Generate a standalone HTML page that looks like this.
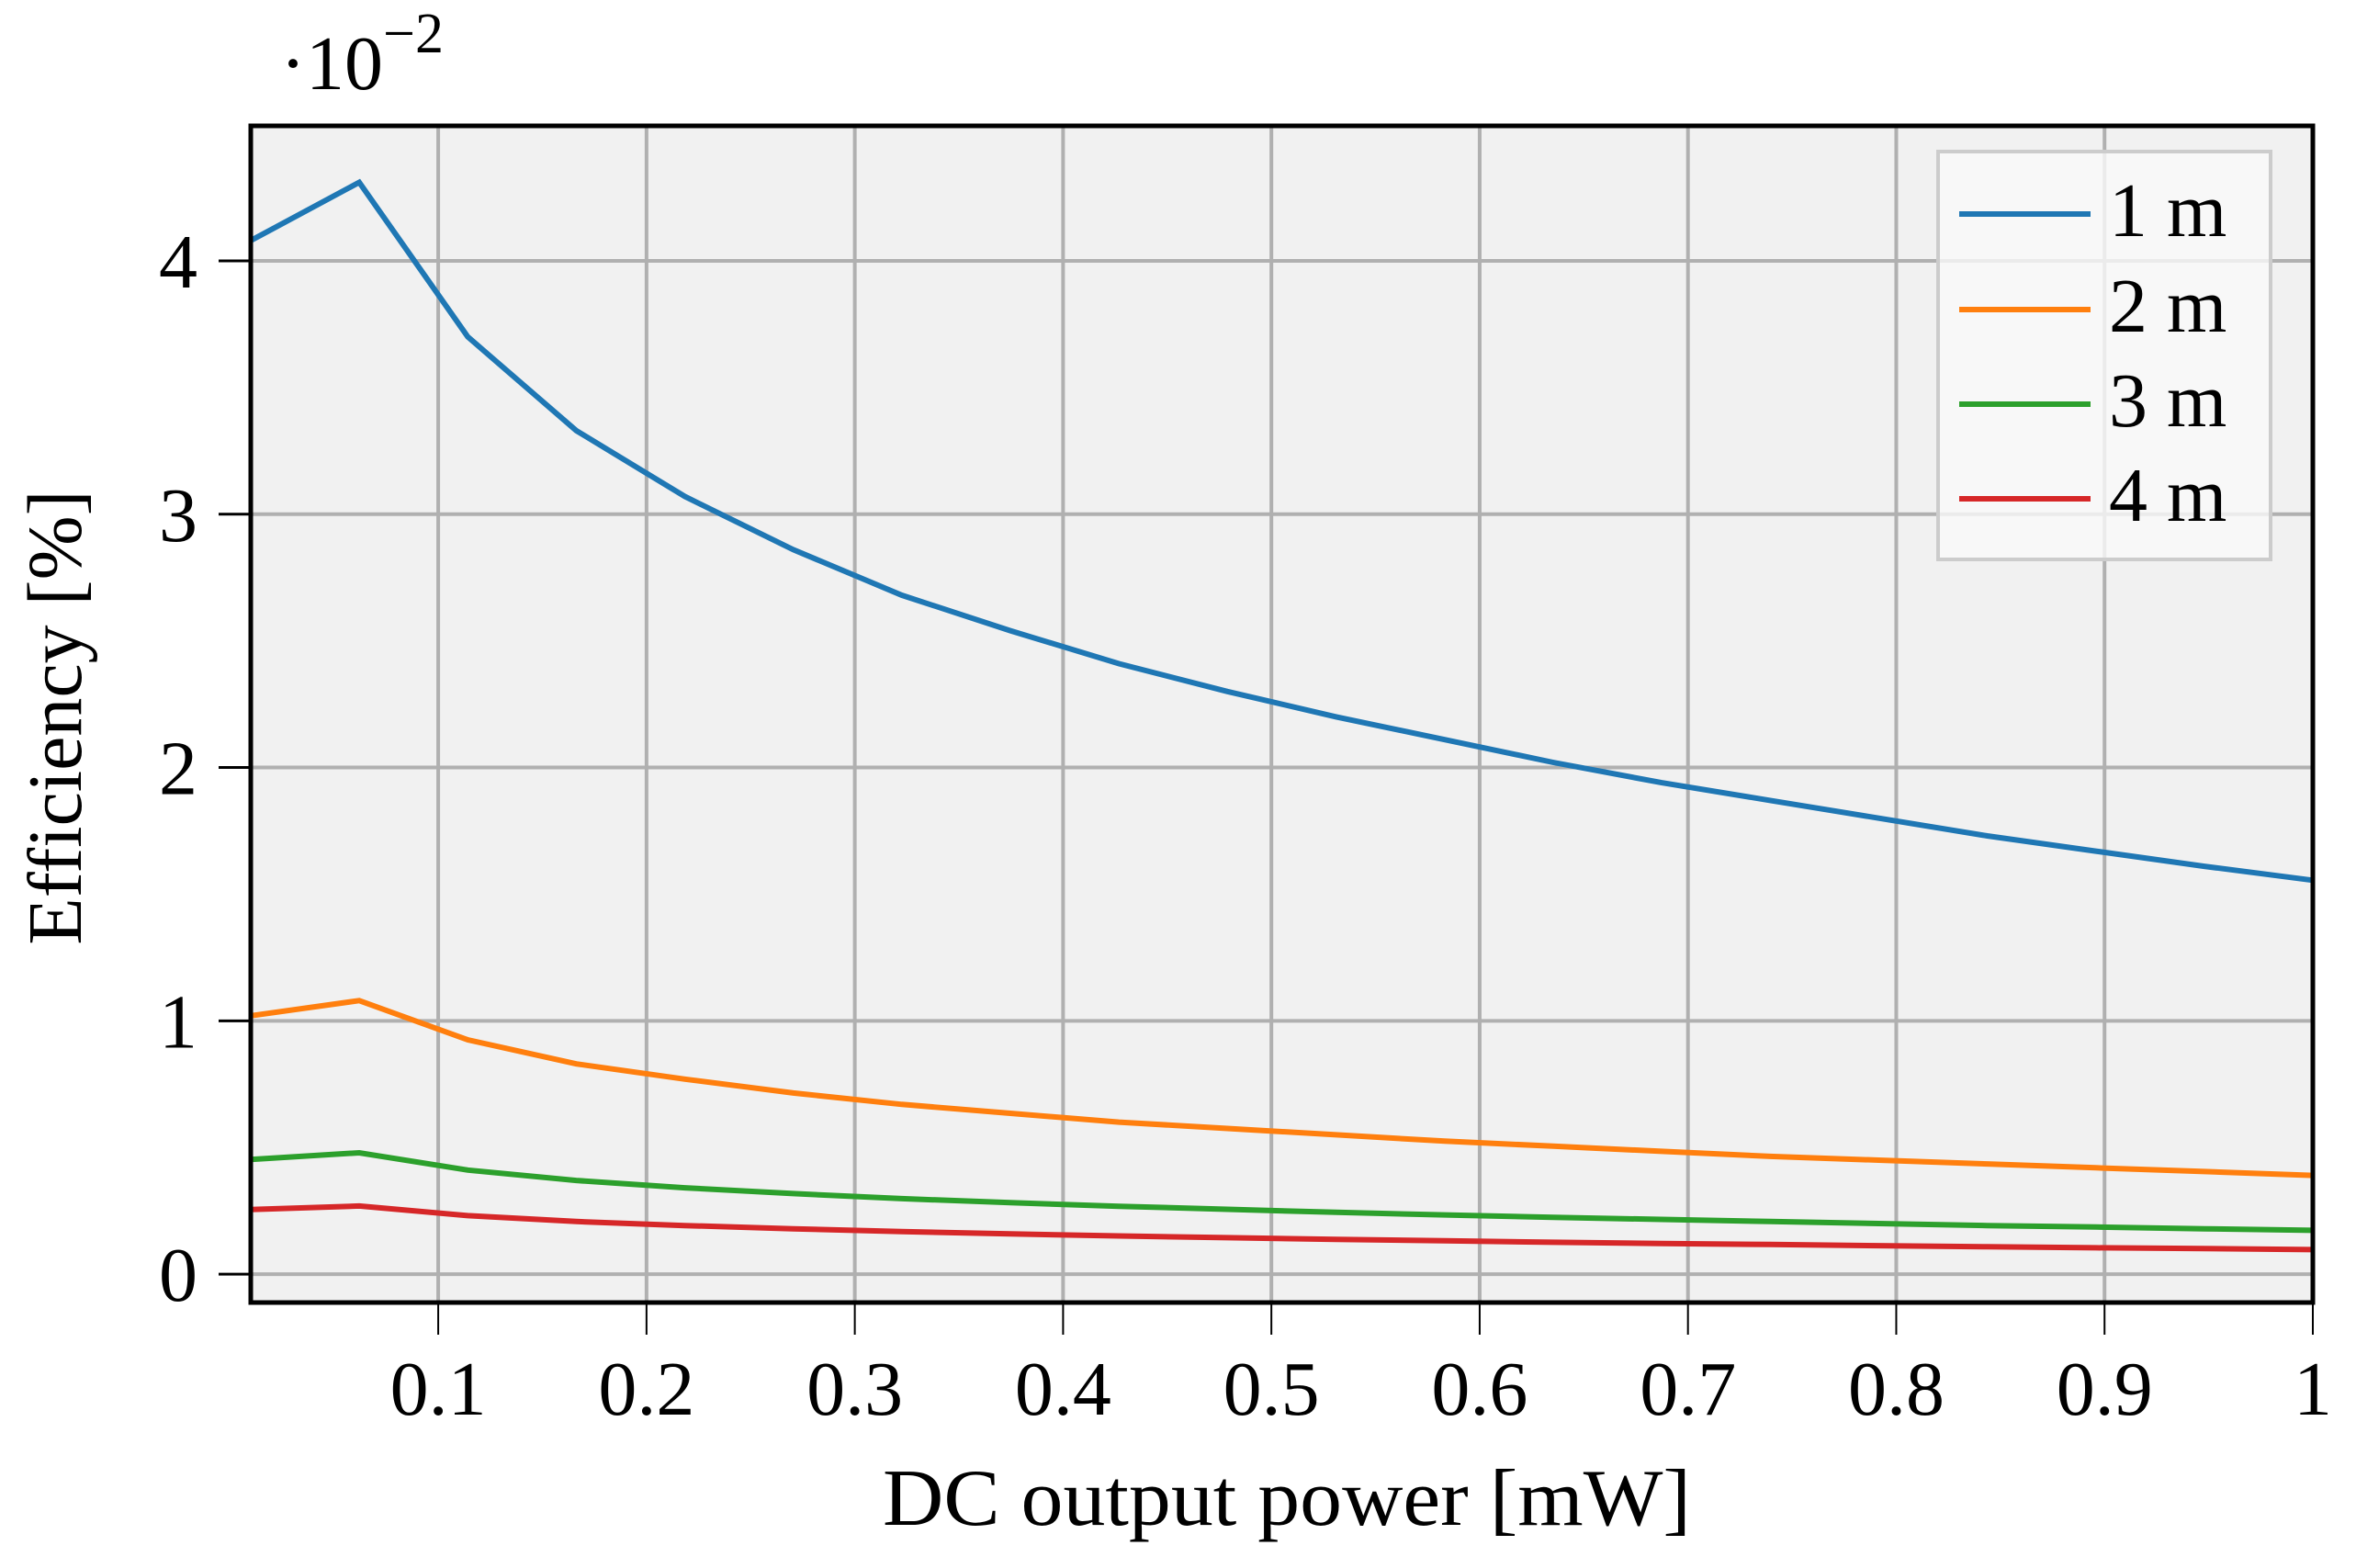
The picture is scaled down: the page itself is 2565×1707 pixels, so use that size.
<!DOCTYPE html>
<html><head><meta charset="utf-8"><style>
html,body{margin:0;padding:0;background:#fff;}
svg{display:block;}
text{font-family:"Liberation Serif",serif;fill:#000;}
</style></head><body>
<svg id="chart" width="2565" height="1707" viewBox="0 0 2565 1707">
<rect x="273" y="137" width="2245" height="1281" fill="#f1f1f1"/>
<g id="grid"></g>
<g id="series"></g>
<rect x="273" y="137" width="2245" height="1281" fill="none" stroke="#000" stroke-width="5"/>
<g id="ticks"></g>
<text x="305" y="97" font-size="84">·10<tspan dy="-40" font-size="62">−2</tspan></text>
<text x="1401" y="1660" font-size="88" text-anchor="middle" textLength="880" lengthAdjust="spacingAndGlyphs">DC output power [mW]</text>
<text transform="translate(88,781) rotate(-90)" font-size="84" text-anchor="middle">Efficiency [%]</text>
<g id="legend"></g>
</svg>
<script>
const xValues = [0.01,0.0621,0.1142,0.1663,0.2184,0.2705,0.3226,0.3747,0.4268,0.4789,0.5311,0.5832,0.6353,0.6874,0.7395,0.7916,0.8437,0.8958,0.9479,1.0];
const series1m = [4.08,4.31,3.70,3.33,3.07,2.86,2.68,2.54,2.41,2.30,2.20,2.11,2.02,1.94,1.87,1.80,1.73,1.67,1.61,1.555];
const series2m = [1.02,1.08,0.925,0.83,0.77,0.715,0.67,0.635,0.60,0.575,0.55,0.525,0.505,0.485,0.465,0.45,0.435,0.42,0.405,0.39];
const series3m = [0.453,0.479,0.411,0.370,0.341,0.318,0.298,0.282,0.268,0.256,0.244,0.234,0.224,0.216,0.208,0.200,0.192,0.186,0.179,0.173];
const series4m = [0.255,0.269,0.231,0.208,0.192,0.179,0.168,0.159,0.151,0.144,0.1375,0.132,0.126,0.121,0.117,0.1125,0.108,0.104,0.101,0.097];
const seriesLabels = ["1 m","2 m","3 m","4 m"];
const seriesColors = ["#1f77b4","#ff7f0e","#2ca02c","#d62728"];
const xTicks = [0.1,0.2,0.3,0.4,0.5,0.6,0.7,0.8,0.9,1];
const xTickLabels = ["0.1","0.2","0.3","0.4","0.5","0.6","0.7","0.8","0.9","1"];
const yTicks = [0,1,2,3,4];
const yTickLabels = ["0","1","2","3","4"];

const NS = "http://www.w3.org/2000/svg";
const X0=273, X1=2518, Y0=137, Y1=1418;
const xMin=0.01, xMax=1.0, yMin=-0.112, yMax=4.533;
function sx(v){return X0+(v-xMin)/(xMax-xMin)*(X1-X0);}
function sy(v){return Y1-(v-yMin)/(yMax-yMin)*(Y1-Y0);}
function mk(tag, attrs){const e=document.createElementNS(NS,tag);for(const k in attrs)e.setAttribute(k,attrs[k]);return e;}

const grid=document.getElementById('grid'), ticks=document.getElementById('ticks');
xTicks.forEach((t,i)=>{
  const g=mk('line',{x1:sx(t),x2:sx(t),y1:Y0,y2:Y1,stroke:'#b0b0b0','stroke-width':4});
  
  
  grid.appendChild(g);
  const tk=mk('line',{x1:sx(t),x2:sx(t),y1:Y1,y2:Y1+35,stroke:'#000','stroke-width':2});
  
  
  ticks.appendChild(tk);
  const tx=mk('text',{x:sx(t),y:1540,'font-size':84,'text-anchor':'middle'});
  tx.textContent=xTickLabels[i];
  
  
  ticks.appendChild(tx);
});
yTicks.forEach((t,i)=>{
  const g=mk('line',{x1:X0,x2:X1,y1:sy(t),y2:sy(t),stroke:'#b0b0b0','stroke-width':4});
  
  
  grid.appendChild(g);
  const tk=mk('line',{x1:X0-35,x2:X0,y1:sy(t),y2:sy(t),stroke:'#000','stroke-width':3});
  
  
  ticks.appendChild(tk);
  const tx=mk('text',{x:215,y:sy(t)+29,'font-size':84,'text-anchor':'end'});
  tx.textContent=yTickLabels[i];
  
  
  ticks.appendChild(tx);
});

const allSeries=[series1m,series2m,series3m,series4m];
const sg=document.getElementById('series');
allSeries.forEach((vals,si)=>{
  const pts=vals.map((v,i)=>sx(xValues[i]).toFixed(1)+','+sy(v).toFixed(1)).join(' ');
  const pl=mk('polyline',{points:pts,fill:'none',stroke:seriesColors[si],'stroke-width':6,'stroke-linejoin':'miter'});
  
  
  sg.appendChild(pl);
});

const lg=document.getElementById('legend');
const box=mk('rect',{x:2110,y:165,width:362,height:444,fill:'#fafafa','fill-opacity':0.8,stroke:'#cccccc','stroke-width':4});


lg.appendChild(box);
const ly=[233,337,440,543];
seriesLabels.forEach((lab,i)=>{
  const ln=mk('line',{x1:2133,x2:2276,y1:ly[i],y2:ly[i],stroke:seriesColors[i],'stroke-width':6});
  
  
  lg.appendChild(ln);
  const tx=mk('text',{x:2296,y:ly[i]+24,'font-size':84});
  tx.textContent=lab;
  
  
  lg.appendChild(tx);
});
</script>
</body></html>
